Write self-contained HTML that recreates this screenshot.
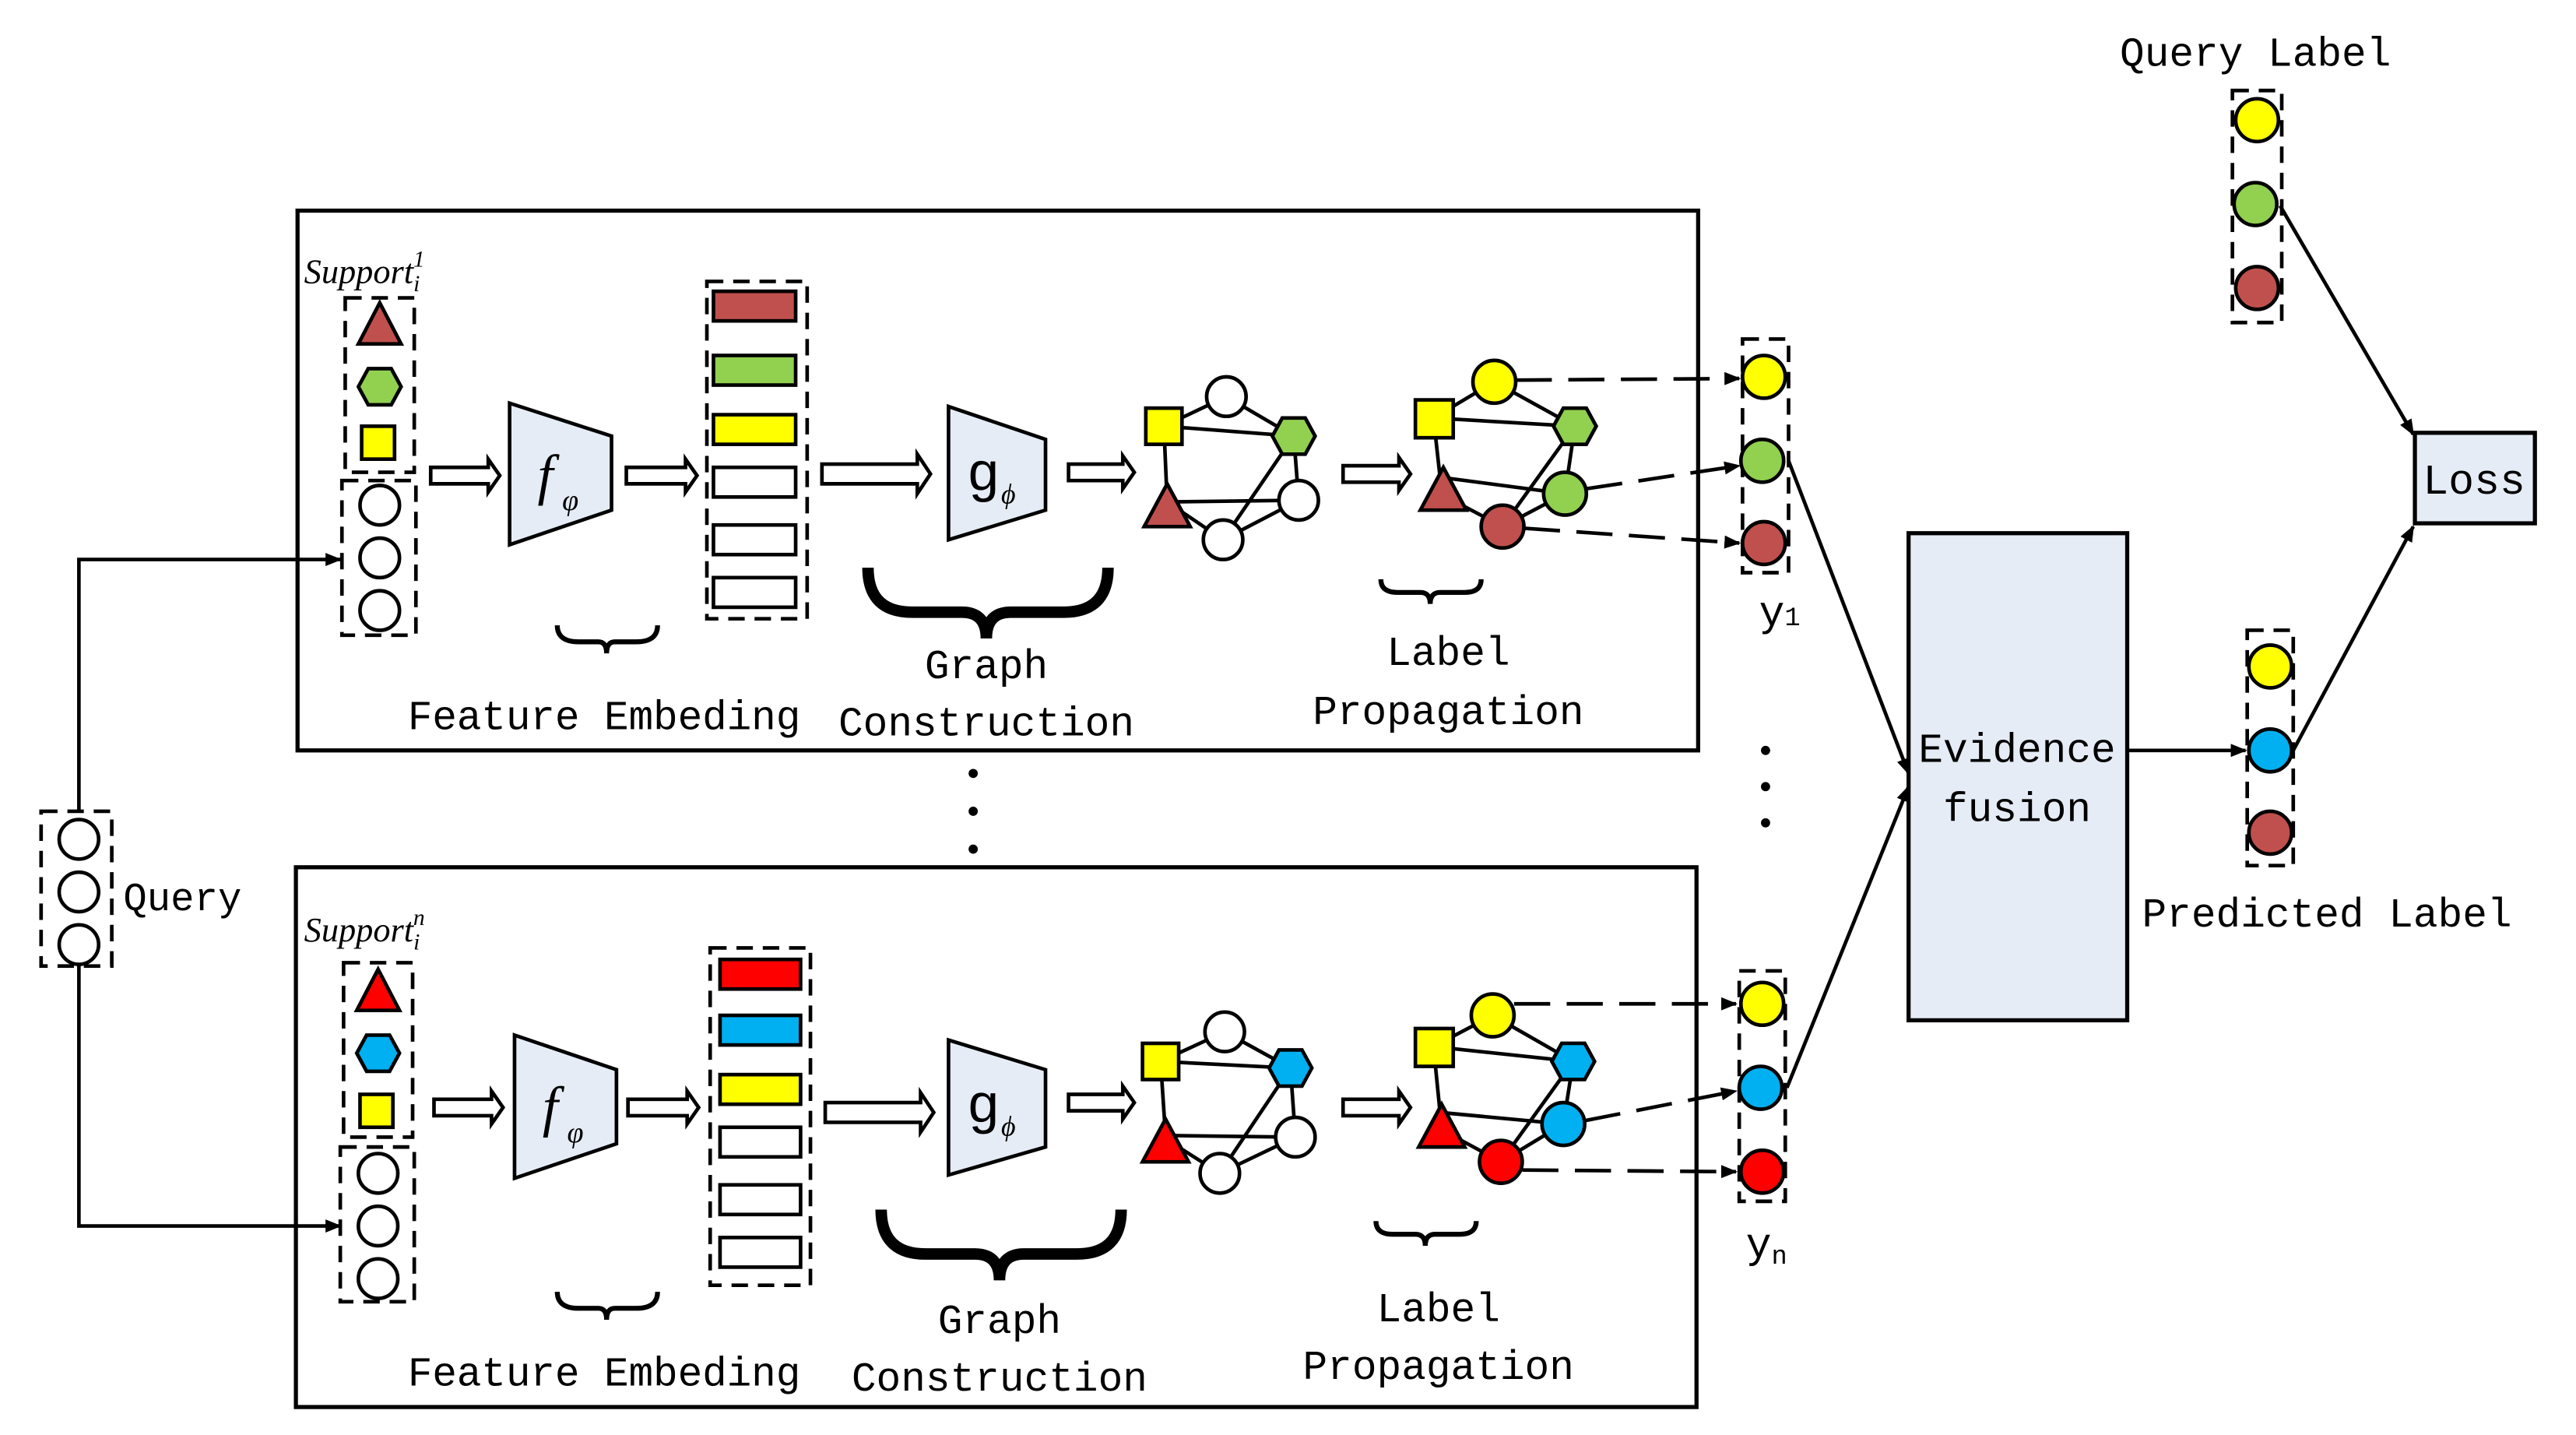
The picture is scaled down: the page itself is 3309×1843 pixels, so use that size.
<!DOCTYPE html>
<html><head><meta charset="utf-8"><style>
html,body{margin:0;padding:0;background:#fff;}
svg{display:block;}
text{font-family:"Liberation Mono","Noto Serif CJK SC",monospace;fill:#000;}
.it{font-family:"Liberation Serif",serif;font-style:italic;}
</style></head><body>
<svg width="3309" height="1843" viewBox="0 0 1567 872" preserveAspectRatio="none" xmlns="http://www.w3.org/2000/svg">
<defs>
<marker id="ah" markerWidth="10" markerHeight="8" refX="9" refY="4" orient="auto" markerUnits="userSpaceOnUse"><path d="M0,0 L10,4 L0,8 z" fill="#000"/></marker>
</defs>
<g stroke="#000" stroke-width="2.5" fill="none">
<rect x="181" y="128" width="852" height="328"/>
<rect x="180" y="527" width="852" height="328"/>
</g>

<!-- Query -->
<g stroke="#000" stroke-width="2.2" fill="#fff">
<rect x="25" y="493" width="43" height="94" stroke-dasharray="10,6" fill="none"/>
<circle cx="48" cy="510" r="12"/><circle cx="48" cy="542" r="12"/><circle cx="48" cy="574" r="12"/>
</g>
<text x="75" y="553" font-size="24">Query</text>
<g stroke="#000" stroke-width="2.2" fill="none">
<polyline points="48,493 48,340 207,340" marker-end="url(#ah)"/>
<polyline points="48,587 48,745 207,745" marker-end="url(#ah)"/>
</g>

<!-- ===== TOP PANEL ===== -->
<text x="185" y="172" font-size="21" class="it">Support<tspan font-size="14" dy="5">i</tspan><tspan font-size="14" dx="-4" dy="-15">1</tspan></text>
<g stroke="#000" stroke-width="2.2">
<rect x="210" y="181" width="42" height="106" stroke-dasharray="10,6" fill="none"/>
<rect x="208" y="292" width="45" height="94" stroke-dasharray="10,6" fill="none"/>
<polygon points="231,184 244,209 218,209" fill="#c0504d"/>
<polygon points="218,235 224,224 238,224 244,235 238,246 224,246" fill="#92d050"/>
<rect x="220" y="259" width="20" height="20" fill="#ffff00"/>
<circle cx="231" cy="307" r="12" fill="#fff"/><circle cx="231" cy="339" r="12" fill="#fff"/><circle cx="231" cy="371" r="12" fill="#fff"/>
<polygon points="262,284 297,284 297,279 304,289 297,299 297,294 262,294" fill="#fff"/>
<polygon points="310,245 372,265 372,310 310,331" fill="#e6ecf6"/>
<polygon points="381,284 417,284 417,279 424,289 417,299 417,294 381,294" fill="#fff"/>
<rect x="430" y="171" width="61" height="205" stroke-dasharray="10,6" fill="none"/>
<rect x="434" y="177" width="50" height="18" fill="#c0504d"/>
<rect x="434" y="216" width="50" height="18" fill="#92d050"/>
<rect x="434" y="252" width="50" height="18" fill="#ffff00"/>
<rect x="434" y="284" width="50" height="18" fill="#fff"/>
<rect x="434" y="319" width="50" height="18" fill="#fff"/>
<rect x="434" y="351" width="50" height="18" fill="#fff"/>
<polygon points="500,282 558,282 558,276 566,288 558,300 558,294 500,294" fill="#fff"/>
<polygon points="577,247 636,267 636,310 577,328" fill="#e6ecf6"/>
<polygon points="650,282 683,282 683,277 690,287 683,297 683,292 650,292" fill="#fff"/>
<polygon points="817,283 851,283 851,278 858,288 851,298 851,293 817,293" fill="#fff"/>
</g>
<text x="327" y="300" font-size="34" class="it">f</text><text x="342" y="310" font-size="18" class="it">φ</text>
<text x="588" y="298" font-size="34" font-family="Liberation Serif">g</text><text x="609" y="306" font-size="17" class="it">ϕ</text>
<g stroke="#000" fill="none">
<path d="M339,380 Q339,390 352,390 L364,390 Q369,390 369,397 Q369,390 374,390 L387,390 Q400,390 400,380" stroke-width="3"/>
<path d="M528,345 Q528,372 555,372 L585,372 Q600,372 600,388 Q600,372 615,372 L647,372 Q674,372 674,345" stroke-width="7"/>
<path d="M840,352 Q840,360 850,360 L864,360 Q870,360 870,367 Q870,360 876,360 L891,360 Q901,360 901,352" stroke-width="3"/>
</g>
<text x="248" y="443" font-size="25" textLength="239">Feature Embeding</text>
<text x="600" y="412" font-size="25" text-anchor="middle">Graph</text>
<text x="600" y="447" font-size="25" text-anchor="middle">Construction</text>
<text x="881" y="404" font-size="25" text-anchor="middle">Label</text>
<text x="881" y="440" font-size="25" text-anchor="middle">Propagation</text>
<g stroke="#000" stroke-width="2.2">
<line x1="708" y1="259" x2="746" y2="241"/><line x1="746" y1="241" x2="787" y2="265"/>
<line x1="708" y1="259" x2="787" y2="265"/><line x1="708" y1="259" x2="710" y2="305"/>
<line x1="710" y1="305" x2="790" y2="304"/><line x1="787" y1="265" x2="744" y2="328"/>
<line x1="787" y1="265" x2="790" y2="304"/><line x1="790" y1="304" x2="744" y2="328"/>
<line x1="710" y1="305" x2="744" y2="328"/>
<rect x="697" y="248" width="22" height="22" fill="#ffff00"/>
<circle cx="746" cy="241" r="12" fill="#fff"/>
<polygon points="774,265 780,254 794,254 800,265 794,276 780,276" fill="#92d050"/>
<polygon points="710,294 724,320 696,320" fill="#c0504d"/>
<circle cx="744" cy="328" r="12" fill="#fff"/>
<circle cx="790" cy="304" r="12" fill="#fff"/>
</g>
<g stroke="#000" stroke-width="2.2">
<line x1="872" y1="254" x2="909" y2="232"/><line x1="909" y1="232" x2="958" y2="259"/>
<line x1="872" y1="254" x2="958" y2="259"/><line x1="872" y1="254" x2="876" y2="290"/>
<line x1="876" y1="290" x2="952" y2="300"/><line x1="958" y1="259" x2="914" y2="320"/>
<line x1="958" y1="259" x2="952" y2="300"/><line x1="952" y1="300" x2="914" y2="320"/>
<line x1="876" y1="300" x2="914" y2="320"/>
<rect x="861" y="243" width="23" height="23" fill="#ffff00"/>
<circle cx="909" cy="232" r="13" fill="#ffff00"/>
<polygon points="945,259 951,248 965,248 971,259 965,270 951,270" fill="#92d050"/>
<polygon points="878,284 892,310 864,310" fill="#c0504d"/>
<circle cx="952" cy="300" r="13" fill="#92d050"/>
<circle cx="914" cy="320" r="13" fill="#c0504d"/>
</g>
<g stroke="#000" stroke-width="2.2" fill="none" stroke-dasharray="22,10">
<line x1="922" y1="231" x2="1058" y2="230" marker-end="url(#ah)"/>
<line x1="965" y1="297" x2="1058" y2="283" marker-end="url(#ah)"/>
<line x1="927" y1="321" x2="1058" y2="330" marker-end="url(#ah)"/>
</g>
<g stroke="#000" stroke-width="2.2">
<rect x="1060" y="206" width="28" height="142" stroke-dasharray="10,6" fill="none"/>
<circle cx="1073" cy="229" r="13" fill="#ffff00"/>
<circle cx="1072" cy="280" r="13" fill="#92d050"/>
<circle cx="1073" cy="330" r="13" fill="#c0504d"/>
</g>
<text x="1070" y="380" font-size="26" font-family="Liberation Serif">y<tspan font-size="16">1</tspan></text>

<g fill="#000">
<circle cx="592" cy="470" r="2.8"/><circle cx="592" cy="493" r="2.8"/><circle cx="592" cy="516" r="2.8"/>
<circle cx="1074" cy="456" r="2.8"/><circle cx="1074" cy="478" r="2.8"/><circle cx="1074" cy="500" r="2.8"/>
</g>

<!-- ===== BOTTOM PANEL ===== -->
<text x="185" y="572" font-size="21" class="it">Support<tspan font-size="14" dy="5">i</tspan><tspan font-size="14" dx="-4" dy="-15">n</tspan></text>
<g stroke="#000" stroke-width="2.2">
<rect x="209" y="585" width="42" height="106" stroke-dasharray="10,6" fill="none"/>
<rect x="207" y="697" width="45" height="94" stroke-dasharray="10,6" fill="none"/>
<polygon points="230,589 243,614 217,614" fill="#ff0000"/>
<polygon points="217,640 223,629 237,629 243,640 237,651 223,651" fill="#00b0f0"/>
<rect x="219" y="665" width="20" height="20" fill="#ffff00"/>
<circle cx="230" cy="713" r="12" fill="#fff"/><circle cx="230" cy="745" r="12" fill="#fff"/><circle cx="230" cy="777" r="12" fill="#fff"/>
<polygon points="264,668 299,668 299,663 306,673 299,683 299,678 264,678" fill="#fff"/>
<polygon points="313,629 375,650 375,695 313,716" fill="#e6ecf6"/>
<polygon points="382,668 418,668 418,663 425,673 418,683 418,678 382,678" fill="#fff"/>
<rect x="432" y="576" width="61" height="205" stroke-dasharray="10,6" fill="none"/>
<rect x="438" y="583" width="49" height="18" fill="#ff0000"/>
<rect x="438" y="617" width="49" height="18" fill="#00b0f0"/>
<rect x="438" y="653" width="49" height="18" fill="#ffff00"/>
<rect x="438" y="685" width="49" height="18" fill="#fff"/>
<rect x="438" y="720" width="49" height="18" fill="#fff"/>
<rect x="438" y="752" width="49" height="18" fill="#fff"/>
<polygon points="502,670 560,670 560,664 568,676 560,688 560,682 502,682" fill="#fff"/>
<polygon points="577,632 636,650 636,697 577,714" fill="#e6ecf6"/>
<polygon points="650,665 683,665 683,660 690,670 683,680 683,675 650,675" fill="#fff"/>
<polygon points="817,668 851,668 851,663 858,673 851,683 851,678 817,678" fill="#fff"/>
</g>
<text x="330" y="684" font-size="34" class="it">f</text><text x="345" y="694" font-size="18" class="it">φ</text>
<text x="588" y="682" font-size="34" font-family="Liberation Serif">g</text><text x="609" y="690" font-size="17" class="it">ϕ</text>
<g stroke="#000" fill="none">
<path d="M339,785 Q339,795 352,795 L364,795 Q369,795 369,802 Q369,795 374,795 L387,795 Q400,795 400,785" stroke-width="3"/>
<path d="M536,735 Q536,762 563,762 L593,762 Q608,762 608,778 Q608,762 623,762 L655,762 Q682,762 682,735" stroke-width="7"/>
<path d="M837,742 Q837,750 847,750 L861,750 Q867,750 867,757 Q867,750 873,750 L888,750 Q898,750 898,742" stroke-width="3"/>
</g>
<text x="248" y="842" font-size="25" textLength="239">Feature Embeding</text>
<text x="608" y="810" font-size="25" text-anchor="middle">Graph</text>
<text x="608" y="845" font-size="25" text-anchor="middle">Construction</text>
<text x="875" y="803" font-size="25" text-anchor="middle">Label</text>
<text x="875" y="838" font-size="25" text-anchor="middle">Propagation</text>
<g stroke="#000" stroke-width="2.2">
<line x1="706" y1="645" x2="745" y2="627"/><line x1="745" y1="627" x2="785" y2="649"/>
<line x1="706" y1="645" x2="785" y2="649"/><line x1="706" y1="645" x2="709" y2="690"/>
<line x1="709" y1="690" x2="788" y2="691"/><line x1="785" y1="649" x2="742" y2="713"/>
<line x1="785" y1="649" x2="788" y2="691"/><line x1="788" y1="691" x2="742" y2="713"/>
<line x1="709" y1="692" x2="742" y2="713"/>
<rect x="695" y="634" width="22" height="22" fill="#ffff00"/>
<circle cx="745" cy="627" r="12" fill="#fff"/>
<polygon points="772,649 778,638 792,638 798,649 792,660 778,660" fill="#00b0f0"/>
<polygon points="709,680 723,706 695,706" fill="#ff0000"/>
<circle cx="742" cy="713" r="12" fill="#fff"/>
<circle cx="788" cy="691" r="12" fill="#fff"/>
</g>
<g stroke="#000" stroke-width="2.2">
<line x1="872" y1="636" x2="908" y2="617"/><line x1="908" y1="617" x2="957" y2="645"/>
<line x1="872" y1="636" x2="957" y2="645"/><line x1="872" y1="636" x2="876" y2="676"/>
<line x1="876" y1="676" x2="951" y2="683"/><line x1="957" y1="645" x2="913" y2="706"/>
<line x1="957" y1="645" x2="951" y2="683"/><line x1="951" y1="683" x2="913" y2="706"/>
<line x1="876" y1="686" x2="913" y2="706"/>
<rect x="861" y="625" width="23" height="23" fill="#ffff00"/>
<circle cx="908" cy="617" r="13" fill="#ffff00"/>
<polygon points="944,645 950,634 964,634 970,645 964,656 950,656" fill="#00b0f0"/>
<polygon points="877,671 891,697 863,697" fill="#ff0000"/>
<circle cx="951" cy="683" r="13" fill="#00b0f0"/>
<circle cx="913" cy="706" r="13" fill="#ff0000"/>
</g>
<g stroke="#000" stroke-width="2.2" fill="none" stroke-dasharray="22,10">
<line x1="921" y1="610" x2="1056" y2="610" marker-end="url(#ah)"/>
<line x1="964" y1="681" x2="1056" y2="663" marker-end="url(#ah)"/>
<line x1="926" y1="711" x2="1056" y2="712" marker-end="url(#ah)"/>
</g>
<g stroke="#000" stroke-width="2.2">
<rect x="1058" y="590" width="28" height="140" stroke-dasharray="10,6" fill="none"/>
<circle cx="1072" cy="610" r="13" fill="#ffff00"/>
<circle cx="1071" cy="661" r="13" fill="#00b0f0"/>
<circle cx="1072" cy="712" r="13" fill="#ff0000"/>
</g>
<text x="1062" y="764" font-size="26" font-family="Liberation Serif">y<tspan font-size="16" dy="4">n</tspan></text>

<g stroke="#000" stroke-width="2.2" fill="none">
<line x1="1088" y1="280" x2="1161" y2="470" marker-end="url(#ah)"/>
<line x1="1087" y1="661" x2="1161" y2="478" marker-end="url(#ah)"/>
</g>
<rect x="1161" y="324" width="133" height="296" fill="#e6ecf6" stroke="#000" stroke-width="2.5"/>
<text x="1227" y="463" font-size="25" text-anchor="middle">Evidence</text>
<text x="1227" y="499" font-size="25" text-anchor="middle">fusion</text>
<line x1="1294" y1="456" x2="1366" y2="456" stroke="#000" stroke-width="2.2" marker-end="url(#ah)"/>

<g stroke="#000" stroke-width="2.2">
<rect x="1367" y="383" width="28" height="143" stroke-dasharray="10,6" fill="none"/>
<circle cx="1381" cy="405" r="13" fill="#ffff00"/>
<circle cx="1381" cy="456" r="13" fill="#00b0f0"/>
<circle cx="1381" cy="506" r="13" fill="#c0504d"/>
<rect x="1358" y="55" width="30" height="141" stroke-dasharray="10,6" fill="none"/>
<circle cx="1373" cy="73" r="13" fill="#ffff00"/>
<circle cx="1372" cy="124" r="13" fill="#92d050"/>
<circle cx="1373" cy="175" r="13" fill="#c0504d"/>
</g>
<text x="1303" y="563" font-size="25">Predicted Label</text>
<text x="1372" y="40" font-size="25" text-anchor="middle">Query Label</text>
<g stroke="#000" stroke-width="2.2" fill="none">
<line x1="1387" y1="125" x2="1468" y2="264" marker-end="url(#ah)"/>
<line x1="1395" y1="456" x2="1468" y2="320" marker-end="url(#ah)"/>
</g>
<rect x="1469" y="263" width="73" height="55" fill="#e6ecf6" stroke="#000" stroke-width="2.5"/>
<text x="1505" y="300" font-size="26" text-anchor="middle" font-family="Liberation Serif">Loss</text>
</svg>
</body></html>
